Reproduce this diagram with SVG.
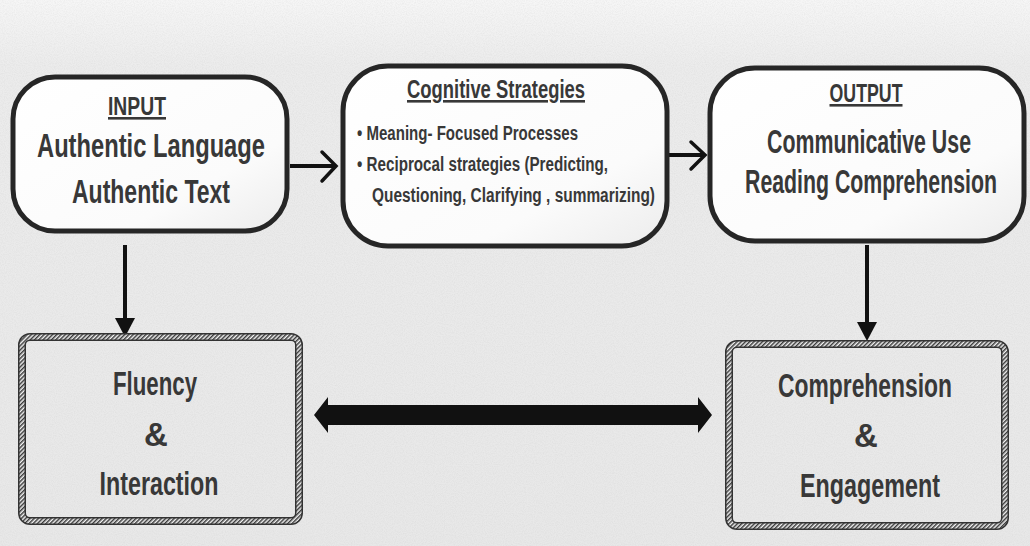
<svg xmlns="http://www.w3.org/2000/svg" width="1030" height="546" viewBox="0 0 1030 546">
<defs>
  <filter id="paper" x="0" y="0" width="100%" height="100%">
    <feTurbulence type="fractalNoise" baseFrequency="0.9" numOctaves="2" seed="3" result="n"/>
    <feColorMatrix type="matrix" values="0 0 0 0 0.5  0 0 0 0 0.5  0 0 0 0 0.5  0 0 0 -1.6 1.05" />
  </filter>
  <pattern id="hatch" width="3" height="3" patternUnits="userSpaceOnUse" patternTransform="rotate(45)">
    <rect width="3" height="3" fill="#f2f2f2"/>
    <rect width="1.5" height="3" fill="#3a3a3a"/>
  </pattern>
  <linearGradient id="bg" x1="0" y1="0" x2="0" y2="1">
    <stop offset="0" stop-color="#f6f6f6"/>
    <stop offset="0.12" stop-color="#ececec"/>
    <stop offset="1" stop-color="#e8e8e8"/>
  </linearGradient>
  <linearGradient id="boxfill" x1="0" y1="0" x2="1" y2="1">
    <stop offset="0" stop-color="#ffffff"/>
    <stop offset="0.7" stop-color="#fbfbfb"/>
    <stop offset="1" stop-color="#ececec"/>
  </linearGradient>
</defs>
<style>
  .pill { fill: url(#boxfill); stroke: #262626; stroke-width: 5; }
  .rope-base { fill: none; stroke: #333; stroke-width: 8; }
  .rope { fill: none; stroke: url(#hatch); stroke-width: 5; }
  .t { font-family: "Liberation Sans", Arial, sans-serif; font-weight: bold; fill: #383838; text-anchor: middle; }
  .big { font-size: 33px; }
  .hd { font-size: 26px; text-decoration: underline; }
  .sm { font-size: 20px; text-anchor: start; }
  .line { stroke: #111; stroke-width: 4; fill: none; }
  .chev { stroke: #111; stroke-width: 3.5; fill: none; stroke-linecap: round; stroke-linejoin: miter; }
  .head { fill: #111; }
</style>
<rect width="1030" height="546" fill="url(#bg)"/>
<rect width="1030" height="546" filter="url(#paper)" opacity="0.2"/>

<g id="connectors">
  <line class="line" x1="290" y1="166" x2="335" y2="166"/>
  <polyline class="chev" points="322,152 336,166 322,181"/>
  <line class="line" x1="668" y1="155" x2="703" y2="155"/>
  <polyline class="chev" points="691,142 705,155 691,169"/>
  <line class="line" x1="125" y1="245" x2="125" y2="322"/>
  <polygon class="head" points="115,318 135,318 125,337"/>
  <line class="line" x1="867" y1="245" x2="867" y2="326"/>
  <polygon class="head" points="857,322 877,322 867,341"/>
  <polygon class="head" points="314,415 328,397 328,405 698,405 698,397 712,415 698,433 698,425 328,425 328,433"/>
</g>

<g id="input">
  <rect class="pill" x="13" y="77" width="274" height="154" rx="42"/>
  <text class="t hd" x="137" y="115" textLength="58" lengthAdjust="spacingAndGlyphs">INPUT</text>
  <text class="t big" x="151" y="157" textLength="228" lengthAdjust="spacingAndGlyphs">Authentic Language</text>
  <text class="t big" x="151" y="203" textLength="158" lengthAdjust="spacingAndGlyphs">Authentic Text</text>
</g>

<g id="cognitive">
  <rect class="pill" x="343" y="66" width="324" height="180" rx="45"/>
  <text class="t hd" x="496" y="98" textLength="178" lengthAdjust="spacingAndGlyphs">Cognitive Strategies</text>
  <text class="t sm" x="357" y="140" textLength="221" lengthAdjust="spacingAndGlyphs">•  Meaning- Focused Processes</text>
  <text class="t sm" x="357" y="171" textLength="251" lengthAdjust="spacingAndGlyphs">•  Reciprocal strategies (Predicting,</text>
  <text class="t sm" x="372" y="202" textLength="283" lengthAdjust="spacingAndGlyphs">Questioning, Clarifying , summarizing)</text>
</g>

<g id="output">
  <rect class="pill" x="710" y="68" width="314" height="173" rx="45"/>
  <text class="t hd" x="866" y="102" textLength="73" lengthAdjust="spacingAndGlyphs">OUTPUT</text>
  <text class="t big" x="869" y="153" textLength="204" lengthAdjust="spacingAndGlyphs">Communicative Use</text>
  <text class="t big" x="871" y="193" textLength="252" lengthAdjust="spacingAndGlyphs">Reading Comprehension</text>
</g>

<g id="fluency">
  <rect class="rope-base" x="22" y="337" width="277" height="184" rx="8"/>
  <rect class="rope" x="22" y="337" width="277" height="184" rx="8"/>
  <text class="t big" x="155" y="395" textLength="84" lengthAdjust="spacingAndGlyphs">Fluency</text>
  <text class="t big" x="156" y="446">&amp;</text>
  <text class="t big" x="159" y="495" textLength="119" lengthAdjust="spacingAndGlyphs">Interaction</text>
</g>

<g id="comprehension">
  <rect class="rope-base" x="729" y="344" width="276" height="182" rx="8"/>
  <rect class="rope" x="729" y="344" width="276" height="182" rx="8"/>
  <text class="t big" x="865" y="397" textLength="174" lengthAdjust="spacingAndGlyphs">Comprehension</text>
  <text class="t big" x="866" y="447">&amp;</text>
  <text class="t big" x="870" y="497" textLength="140" lengthAdjust="spacingAndGlyphs">Engagement</text>
</g>
</svg>
